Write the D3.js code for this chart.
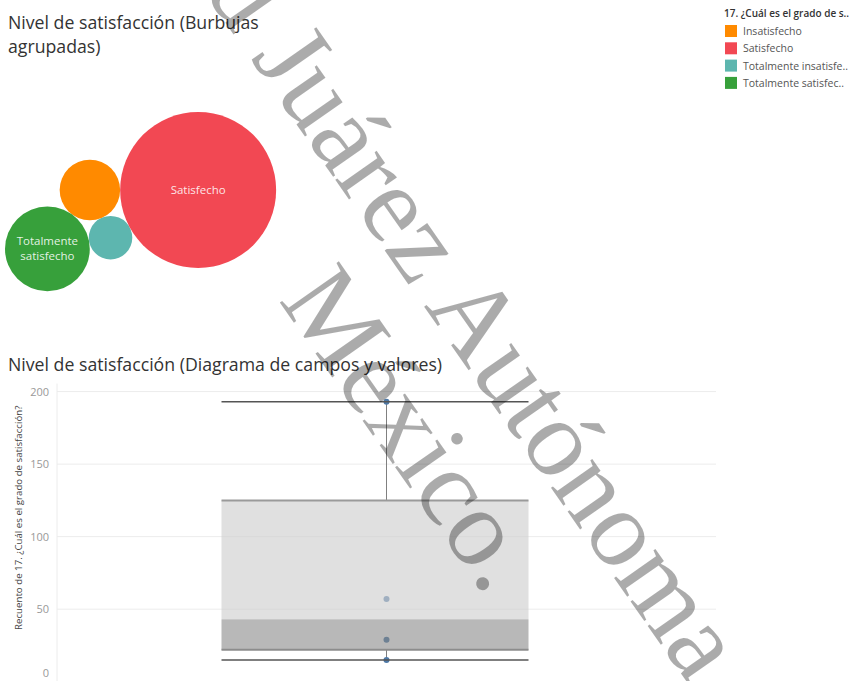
<!DOCTYPE html>
<html>
<head>
<meta charset="utf-8">
<script src="https://cdn.jsdelivr.net/npm/d3@7"></script>
<style>
  body { margin: 0; background: #fff; }
  svg { display: block; font-family: "Open Sans", sans-serif; }
</style>
</head>
<body>
<div id="root"></div>
<script>
// Data
const categories = ["Insatisfecho", "Satisfecho", "Totalmente insatisfecho", "Totalmente satisfecho"];
const counts = [29, 193, 15, 57];
const colors = ["#ff8a00", "#f24853", "#5db6af", "#37a03b"];
const packOrder = [2, 0, 1, 3];
const yTicks = [0, 50, 100, 150, 200];
const legendTitle = "17. ¿Cuál es el grado de satisfacción?";
const yTitle = "Recuento de 17. ¿Cuál es el grado de satisfacción?";
const watermark1a = "Universidad";
const watermark1b = "Juárez Autónoma de Tabasco";
const watermark2 = "México.";

const width = 851;
const height = 681;

const svg = d3.select("#root")
  .append("svg")
  .attr("width", width)
  .attr("height", height);

// Titles
const title1 = svg.append("text")
  .attr("x", 8)
  .attr("y", 29)
  .attr("font-size", 17.7)
  .attr("fill", "#333");
title1.append("tspan").attr("x", 8).text("Nivel de satisfacción (Burbujas");
title1.append("tspan").attr("x", 8).attr("dy", 24).text("agrupadas)");

svg.append("text")
  .attr("x", 8)
  .attr("y", 371)
  .attr("font-size", 17.7)
  .attr("fill", "#333")
  .text("Nivel de satisfacción (Diagrama de campos y valores)");

// truncate text to a width, tableau style
function fitText(sel, str, maxW) {
  sel.text(str);
  if (sel.node().getComputedTextLength() <= maxW) return;
  let s = str;
  while (s.length > 1) {
    s = s.slice(0, -1);
    sel.text(s + "..");
    if (sel.node().getComputedTextLength() <= maxW) return;
  }
}

// Legend
const legend = svg.append("g").attr("transform", "translate(724,0)");
fitText(
  legend.append("text").attr("x", 0).attr("y", 17)
    .attr("font-size", 10).attr("font-weight", 600).attr("fill", "#333"),
  legendTitle, 128
);
const items = legend.selectAll("g.item")
  .data(categories)
  .enter()
  .append("g")
  .attr("class", "item")
  .attr("transform", (d, i) => `translate(0,${24 + i * 17.3})`);
items.append("rect")
  .attr("x", 1).attr("y", 1)
  .attr("width", 12).attr("height", 12)
  .attr("fill", (d, i) => colors[i]);
items.each(function (d) {
  fitText(
    d3.select(this).append("text").attr("x", 19).attr("y", 11)
      .attr("font-size", 10.5).attr("fill", "#555"),
    d, 107
  );
});

// Packed bubbles
const rScale = d3.scaleSqrt().domain([0, d3.max(counts)]).range([0, 78]);
const nodes = packOrder.map((i) => ({ i, r: rScale(counts[i]) }));
d3.packSiblings(nodes);

// rotate layout so Insatisfecho and Satisfecho sit on one row
const nIns = nodes.find((n) => n.i === 0);
const nSat = nodes.find((n) => n.i === 1);
const ang = -Math.atan2(nSat.y - nIns.y, nSat.x - nIns.x);
nodes.forEach((n) => {
  const x = n.x * Math.cos(ang) - n.y * Math.sin(ang);
  const y = n.x * Math.sin(ang) + n.y * Math.cos(ang);
  n.x = x;
  n.y = y;
});
const minX = d3.min(nodes, (n) => n.x - n.r);
const minY = d3.min(nodes, (n) => n.y - n.r);

const bubbles = svg.append("g")
  .attr("transform", `translate(${5 - minX},${112 - minY})`);
const bub = bubbles.selectAll("g")
  .data(nodes)
  .enter()
  .append("g")
  .attr("transform", (d) => `translate(${d.x},${d.y})`);
bub.append("circle")
  .attr("r", (d) => d.r)
  .attr("fill", (d) => colors[d.i]);
bub.filter((d) => d.r > 35)
  .append("text")
  .attr("text-anchor", "middle")
  .attr("font-size", 11.5)
  .attr("fill", "#fff")
  .attr("fill-opacity", 0.88)
  .each(function (d) {
    const words = categories[d.i].split(" ");
    const t = d3.select(this);
    words.forEach((w, k) => {
      t.append("tspan")
        .attr("x", 0)
        .attr("y", (k - (words.length - 1) / 2) * 15 + 4)
        .text(w);
    });
  });

// Box plot
const y = d3.scaleLinear().domain([0, 200]).range([681.7, 391.6]);
const x = d3.scaleLinear().domain([0, 1]).range([57, 716]);

svg.append("g")
  .selectAll("line")
  .data(yTicks)
  .enter()
  .append("line")
  .attr("x1", x(0)).attr("x2", x(1))
  .attr("y1", (d) => y(d)).attr("y2", (d) => y(d))
  .attr("stroke", "#ececec");
svg.append("line")
  .attr("x1", x(0)).attr("x2", x(0))
  .attr("y1", y(200) - 8).attr("y2", height)
  .attr("stroke", "#ececec");

const yAxis = svg.append("g")
  .attr("transform", `translate(${x(0)},0)`)
  .call(d3.axisLeft(y).tickValues(yTicks).tickSize(0).tickPadding(8));
yAxis.select(".domain").remove();
yAxis.selectAll("text")
  .attr("font-family", "Open Sans, sans-serif")
  .attr("font-size", 11)
  .attr("fill", "#999")
  .attr("dy", (d) => (d === 0 ? "-0.45em" : "0.32em"));

svg.append("text")
  .attr("transform", `translate(22,${y(113)}) rotate(-90)`)
  .attr("text-anchor", "middle")
  .attr("font-size", 9.7)
  .attr("fill", "#444")
  .text(yTitle);

const sorted = counts.slice().sort(d3.ascending);
const half = Math.floor(sorted.length / 2);
const med = d3.median(sorted);
const q1 = d3.median(sorted.slice(0, half));
const q3 = d3.median(sorted.slice(sorted.length - half));
const lo = d3.min(sorted);
const hi = d3.max(sorted);

const cx = x(0.5);
const bx0 = cx - 165;
const bx1 = cx + 142;

const box = svg.append("g");
box.selectAll("line.stem")
  .data([[hi, q3], [q1, lo]])
  .enter()
  .append("line")
  .attr("class", "stem")
  .attr("x1", cx).attr("x2", cx)
  .attr("y1", (d) => y(d[0])).attr("y2", (d) => y(d[1]))
  .attr("stroke", "#808080");
box.selectAll("circle")
  .data(sorted)
  .enter()
  .append("circle")
  .attr("cx", cx)
  .attr("cy", (d) => y(d))
  .attr("r", 3)
  .attr("fill", "#4e79a7");
box.append("rect")
  .attr("x", bx0).attr("width", bx1 - bx0)
  .attr("y", y(q3)).attr("height", y(med) - y(q3))
  .attr("fill", "#cecece").attr("fill-opacity", 0.64);
box.append("rect")
  .attr("x", bx0).attr("width", bx1 - bx0)
  .attr("y", y(med)).attr("height", y(q1) - y(med))
  .attr("fill", "#858585").attr("fill-opacity", 0.58);
box.append("line")
  .attr("x1", bx0).attr("x2", bx1)
  .attr("y1", y(q3)).attr("y2", y(q3))
  .attr("stroke", "#9a9a9a").attr("stroke-width", 2);
box.append("line")
  .attr("x1", bx0).attr("x2", bx1)
  .attr("y1", y(q1)).attr("y2", y(q1))
  .attr("stroke", "#8c8c8c").attr("stroke-width", 2);
box.selectAll("line.whisker")
  .data([lo, hi])
  .enter()
  .append("line")
  .attr("class", "whisker")
  .attr("x1", bx0).attr("x2", bx1)
  .attr("y1", (d) => y(d)).attr("y2", (d) => y(d))
  .attr("stroke", "#555").attr("stroke-width", 1.6);

// Watermark
const wm = svg.append("g")
  .attr("font-family", "Liberation Serif, serif")
  .attr("font-size", 110)
  .attr("fill", "#000")
  .attr("fill-opacity", 0.33)
  .attr("pointer-events", "none");
wm.append("text")
  .attr("transform", "translate(250,58) rotate(55)")
  .attr("text-anchor", "end")
  .attr("dx", "-0.25em")
  .text(watermark1a);
wm.append("text")
  .attr("transform", "translate(250,58) rotate(55)")
  .text(watermark1b);
wm.append("text")
  .attr("transform", "translate(278,300) rotate(55)")
  .text(watermark2);
</script>
</body>
</html>
